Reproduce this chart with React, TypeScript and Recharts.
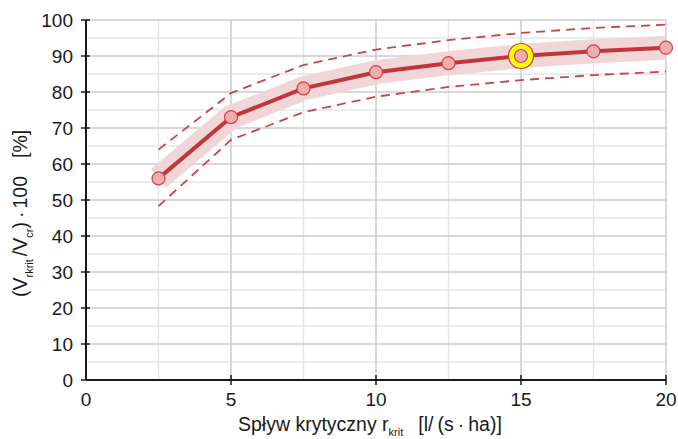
import React from 'react';
import { ComposedChart, Line, XAxis, YAxis, ReferenceLine, Label } from 'recharts';

const rates = [2.5, 5, 7.5, 10, 12.5, 15, 17.5, 20];
const ratio = [56, 73, 81, 85.5, 88, 90, 91.3, 92.3];
const upperBound = [64, 79.7, 87.5, 91.8, 94.4, 96.4, 97.8, 98.7];
const lowerBound = [48.3, 66.7, 74.4, 78.7, 81.4, 83.3, 84.7, 85.7];

const xTicks = [0, 5, 10, 15, 20];
const yTicks = [0, 10, 20, 30, 40, 50, 60, 70, 80, 90, 100];
const xMinor = [2.5, 7.5, 12.5, 17.5];
const yMinor = [5, 15, 25, 35, 45, 55, 65, 75, 85, 95];
const highlightRate = 15;

const data = rates.map((r, i) => ({ r, ratio: ratio[i], upper: upperBound[i], lower: lowerBound[i] }));

const FONT = '"Liberation Sans", Arial, sans-serif';
const INK = '#1a1a1a';

const XTick = (props: any) => {
  const { x, y, payload } = props;
  return (
    <g>
      {payload.value !== 0 && <line x1={x} x2={x} y1={y - 5} y2={y + 5} stroke={INK} strokeWidth={1.5} />}
      <text x={x} y={y + 26} textAnchor="middle" fontSize={19} fill={INK} fontFamily={FONT}>{payload.value}</text>
    </g>
  );
};

const YTick = (props: any) => {
  const { x, y, payload } = props;
  return (
    <g>
      <line x1={x - 5} x2={x + 4} y1={y} y2={y} stroke={INK} strokeWidth={1.5} />
      <text x={x - 13} y={y + 7} textAnchor="end" fontSize={19} fill={INK} fontFamily={FONT}>{payload.value}</text>
    </g>
  );
};

const YTitle = () => (
  <text transform="translate(27,297) rotate(-90)" textAnchor="start" fontSize={19.5} fill={INK} fontFamily={FONT}>
    <tspan>(V</tspan>
    <tspan fontSize={11} dy={6}>rkrit</tspan>
    <tspan dy={-6} dx={3}>/V</tspan>
    <tspan fontSize={11} dy={6}>cr</tspan>
    <tspan dy={-6}>)</tspan>
    <tspan dx={4}>·</tspan>
    <tspan dx={3}>100</tspan>
    <tspan dx={18}>[%]</tspan>
  </text>
);

const XTitle = () => (
  <text x={238} y={431} textAnchor="start" fontSize={19.5} fill={INK} fontFamily={FONT}>
    <tspan>Spływ krytyczny r</tspan>
    <tspan fontSize={11} dy={5}>krit</tspan>
    <tspan dy={-5} dx={15}>[l/</tspan>
    <tspan dx={4}>(s</tspan>
    <tspan dx={4}>·</tspan>
    <tspan dx={4}>ha)]</tspan>
  </text>
);

const Dot = (props: any) => {
  const { cx, cy, payload, index } = props;
  if (cx == null || cy == null) return <g key={index} />;
  return (
    <g key={index}>
      {payload.r === highlightRate && (
        <circle cx={cx} cy={cy} r={12.5} fill="#ffff00" stroke="#d0393d" strokeWidth={1.2} />
      )}
      <circle cx={cx} cy={cy} r={6.5} fill="#f0adae" stroke="#d63f44" strokeWidth={1.2} />
    </g>
  );
};

export default function App() {
  return (
    <div style={{ position: 'absolute', left: 0, top: 0, width: 678, height: 439, background: '#fff' }}>
      <ComposedChart width={678} height={439} data={data} margin={{ top: 20, right: 12, bottom: 0, left: 0 }}>
        {xMinor.map((v) => (
          <ReferenceLine key={'xm' + v} x={v} stroke="#e6e6e6" strokeWidth={1.5} />
        ))}
        {yMinor.map((v) => (
          <ReferenceLine key={'ym' + v} y={v} stroke="#e6e6e6" strokeWidth={1.5} />
        ))}
        {xTicks.filter((v) => v > 0).map((v) => (
          <ReferenceLine key={'xM' + v} x={v} stroke="#cbcbcb" strokeWidth={1.5} />
        ))}
        {yTicks.filter((v) => v > 0).map((v) => (
          <ReferenceLine key={'yM' + v} y={v} stroke="#cbcbcb" strokeWidth={1.5} />
        ))}
        <XAxis
          dataKey="r"
          type="number"
          domain={[0, 20]}
          ticks={xTicks}
          height={59}
          axisLine={{ stroke: INK, strokeWidth: 2 }}
          tickLine={false}
          tickSize={0}
          tickMargin={0}
          tick={<XTick />}
          interval={0}
        >
          <Label content={<XTitle />} />
        </XAxis>
        <YAxis
          type="number"
          domain={[0, 100]}
          ticks={yTicks}
          width={86}
          axisLine={{ stroke: INK, strokeWidth: 2 }}
          tickLine={false}
          tickSize={0}
          tickMargin={0}
          tick={<YTick />}
          interval={0}
        >
          <Label content={<YTitle />} />
        </YAxis>
        <Line dataKey="ratio" stroke="#f1d6d7" strokeWidth={24} strokeLinejoin="round" dot={false} activeDot={false} isAnimationActive={false} />
        <Line dataKey="upper" stroke="#c94448" strokeWidth={1.8} strokeDasharray="9 6" dot={false} activeDot={false} isAnimationActive={false} />
        <Line dataKey="lower" stroke="#c94448" strokeWidth={1.8} strokeDasharray="9 6" dot={false} activeDot={false} isAnimationActive={false} />
        <Line dataKey="ratio" stroke="#c0373b" strokeWidth={4} dot={<Dot />} activeDot={false} isAnimationActive={false} />
      </ComposedChart>
    </div>
  );
}
